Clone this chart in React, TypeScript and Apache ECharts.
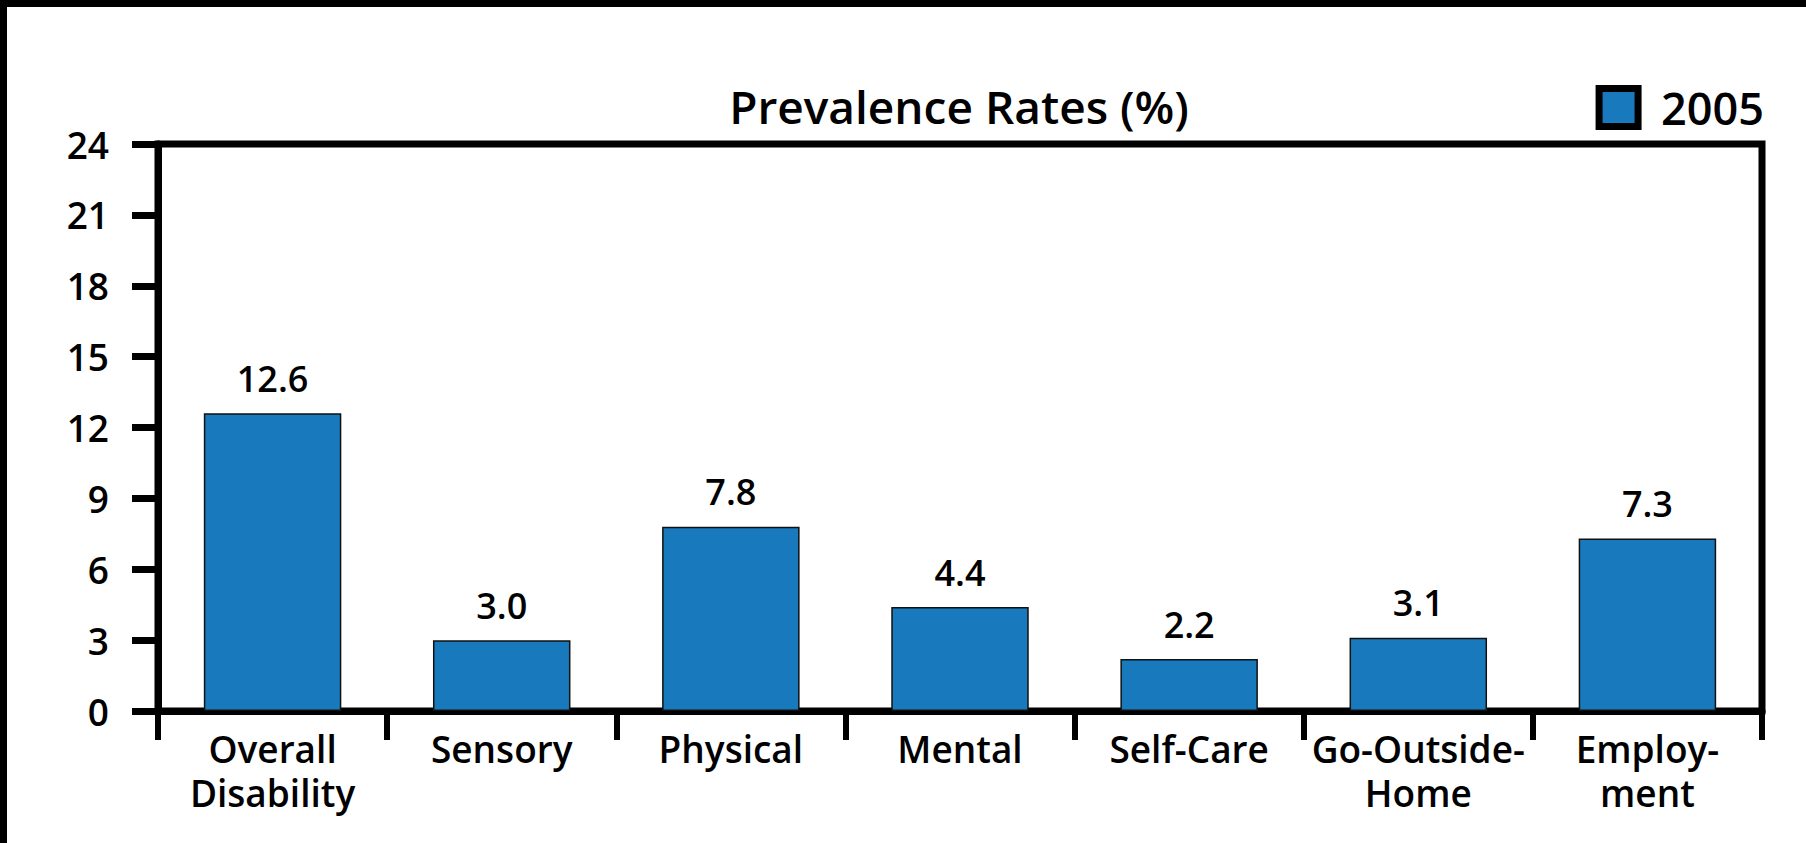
import React, { useEffect, useRef } from "react";
import * as echarts from "echarts";

const categories = [
  "Overall\nDisability",
  "Sensory",
  "Physical",
  "Mental",
  "Self-Care",
  "Go-Outside-\nHome",
  "Employ-\nment",
];
const values2005 = [12.6, 3.0, 7.8, 4.4, 2.2, 3.1, 7.3];
const seriesName = "2005";
const titleText = "Prevalence Rates (%)";
const yMin = 0;
const yMax = 24;
const yStep = 3;

const FONT = "'Open Sans', 'Noto Sans', sans-serif";
const BAR_BLUE = "#1879bc";
const WEIGHT = 600;

export default function App() {
  const ref = useRef<HTMLDivElement>(null);

  useEffect(() => {
    if (!ref.current) return;
    const chart = echarts.init(ref.current, null, { renderer: "svg" });
    chart.setOption({
      animation: false,
      backgroundColor: "#ffffff",
      textStyle: { fontFamily: FONT, fontWeight: WEIGHT, color: "#000" },
      title: {
        text: titleText,
        left: 959,
        textAlign: "center",
        top: 83,
        padding: 0,
        textStyle: {
          fontFamily: FONT,
          fontWeight: WEIGHT,
          fontSize: 46,
          color: "#000",
        },
      },
      legend: {
        data: [seriesName],
        right: 42,
        top: 85,
        padding: 0,
        icon: "rect",
        itemWidth: 39,
        itemHeight: 38,
        itemStyle: { color: BAR_BLUE, borderColor: "#000", borderWidth: 7 },
        textStyle: {
          fontFamily: FONT,
          fontWeight: WEIGHT,
          fontSize: 45,
          color: "#000",
          padding: [0, 0, 0, 18],
        },
      },
      grid: {
        left: 158,
        right: 44,
        top: 144,
        bottom: 132,
        show: true,
        borderColor: "#000",
        borderWidth: 7,
        backgroundColor: "transparent",
      },
      xAxis: {
        type: "category",
        data: categories,
        boundaryGap: true,
        axisLine: { show: true, lineStyle: { color: "#000", width: 7 } },
        axisTick: {
          show: true,
          interval: 0,
          alignWithLabel: false,
          length: 29,
          lineStyle: { color: "#000", width: 6 },
        },
        axisLabel: {
          interval: 0,
          margin: 15,
          fontFamily: FONT,
          fontWeight: WEIGHT,
          fontSize: 37,
          lineHeight: 44,
          color: "#000",
        },
        splitLine: { show: false },
      },
      yAxis: {
        type: "value",
        min: yMin,
        max: yMax,
        interval: yStep,
        axisLine: { show: true, lineStyle: { color: "#000", width: 7 } },
        axisTick: {
          show: true,
          length: 26,
          lineStyle: { color: "#000", width: 7 },
        },
        axisLabel: {
          margin: 49,
          fontFamily: FONT,
          fontWeight: WEIGHT,
          fontSize: 37,
          color: "#000",
        },
        splitLine: { show: false },
      },
      series: [
        {
          name: seriesName,
          type: "bar",
          data: values2005,
          barCategoryGap: "40%",
          itemStyle: {
            color: BAR_BLUE,
            borderColor: "#111",
            borderWidth: 1.5,
          },
          label: {
            show: true,
            position: "top",
            distance: 17,
            fontFamily: FONT,
            fontWeight: WEIGHT,
            fontSize: 36,
            color: "#000",
            formatter: (p: any) => Number(p.value).toFixed(1),
          },
        },
      ],
      graphic: [
        {
          type: "rect",
          shape: { x: 0, y: 0, width: 1806, height: 7 },
          style: { fill: "#000" },
          silent: true,
        },
        {
          type: "rect",
          shape: { x: 0, y: 0, width: 7, height: 843 },
          style: { fill: "#000" },
          silent: true,
        },
      ],
    });
    return () => chart.dispose();
  }, []);

  return (
    <div
      ref={ref}
      style={{
        position: "absolute",
        left: 0,
        top: 0,
        width: 1806,
        height: 843,
        background: "#fff",
      }}
    />
  );
}
